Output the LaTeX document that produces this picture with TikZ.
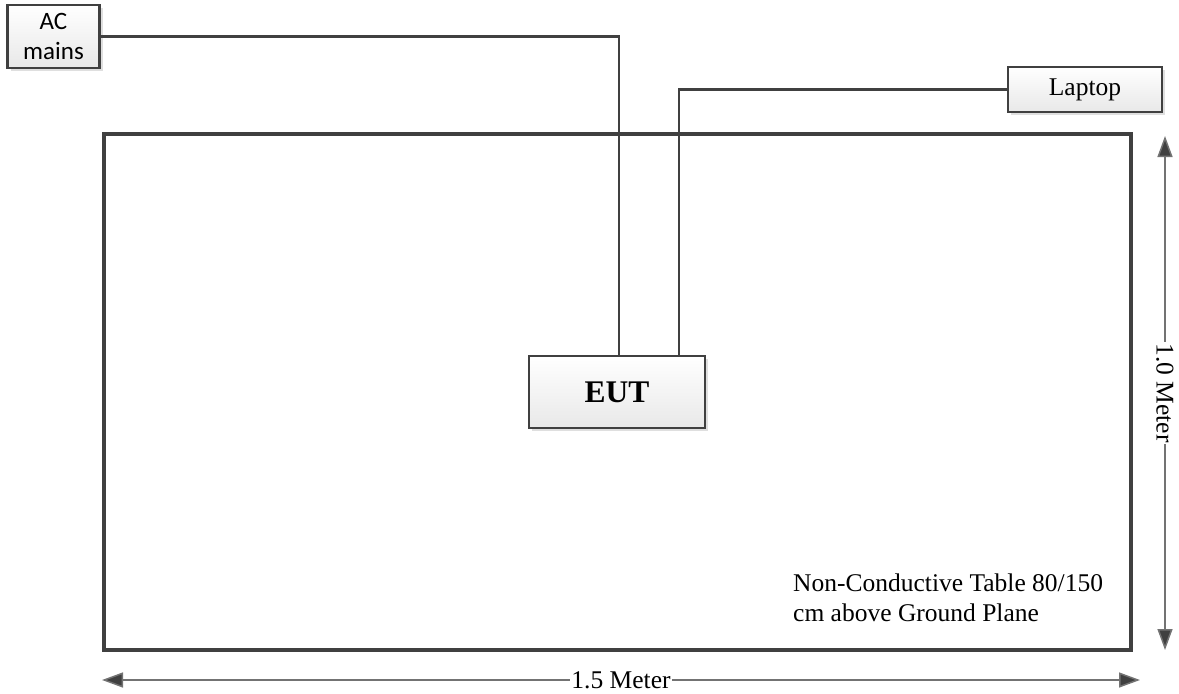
\documentclass[tikz,border=0pt]{standalone}
\usepackage{fontspec}
\setmainfont{Liberation Serif}
\newfontfamily\calibri{Carlito}
\usetikzlibrary{arrows.meta,shadows}

\begin{document}
\begin{tikzpicture}[x=1pt, y=-1pt,
		box/.style={draw=black!75, line width=2.6pt, top color=white, bottom color=black!9,
			drop shadow={shadow xshift=3pt, shadow yshift=-3pt, fill=black!25, opacity=0.5},
			inner sep=0pt, align=center},
		wire/.style={draw=black!75, line width=2.5pt},
		dim/.style={draw=black!55, line width=1.5pt,
			{Triangle[length=21pt,width=15pt,fill=black!75]}-{Triangle[length=21pt,width=15pt,fill=black!75]}},
		dimlabel/.style={fill=white, inner sep=1pt, font=\fontsize{25.5}{30}\selectfont}]
		%%%%% START %%%%%
		\useasboundingbox (0,0) rectangle (1179,694);
		
		% table top
		\node[draw=black!75, line width=4.5pt, minimum width=1027pt, minimum height=516pt] (table) at (617.5,392) {};
		\node[anchor=north west, align=left, inner sep=0pt, font=\fontsize{25.5}{30}\selectfont] (note) at (793,574)
			{Non-Conductive Table 80/150\\cm above Ground Plane};
		
		% equipment
		\node[box, minimum width=92pt, minimum height=63pt, font=\calibri\fontsize{25}{30}\selectfont] (acmains) at (53.5,36.5) {AC\\mains};
		\node[box, minimum width=154pt, minimum height=45pt, font=\fontsize{25.5}{30}\selectfont] (laptop) at (1085,89.5) {Laptop};
		\node[box, minimum width=176pt, minimum height=72pt, font=\fontsize{31.5}{36}\bfseries] (eut) at (617,392) {EUT};
		
		% cables
		\draw[wire] (acmains.east) -| ([xshift=2pt]eut.north);
		\draw[wire] (laptop.west) -| ([xshift=62pt]eut.north);
		
		% dimensions
		\coordinate (vtop) at (1165,136);
		\coordinate (vbot) at (1165,650);
		\coordinate (hleft) at (102,680);
		\coordinate (hright) at (1140,680);
		\draw[dim] (vtop) -- (vbot) node[dimlabel, midway, rotate=-90] (vlabel) {1.0 Meter};
		\draw[dim] (hleft) -- (hright) node[dimlabel, pos=0.5] (hlabel) {1.5 Meter};
		%%%%% END %%%%%
	\end{tikzpicture}
\end{document}
